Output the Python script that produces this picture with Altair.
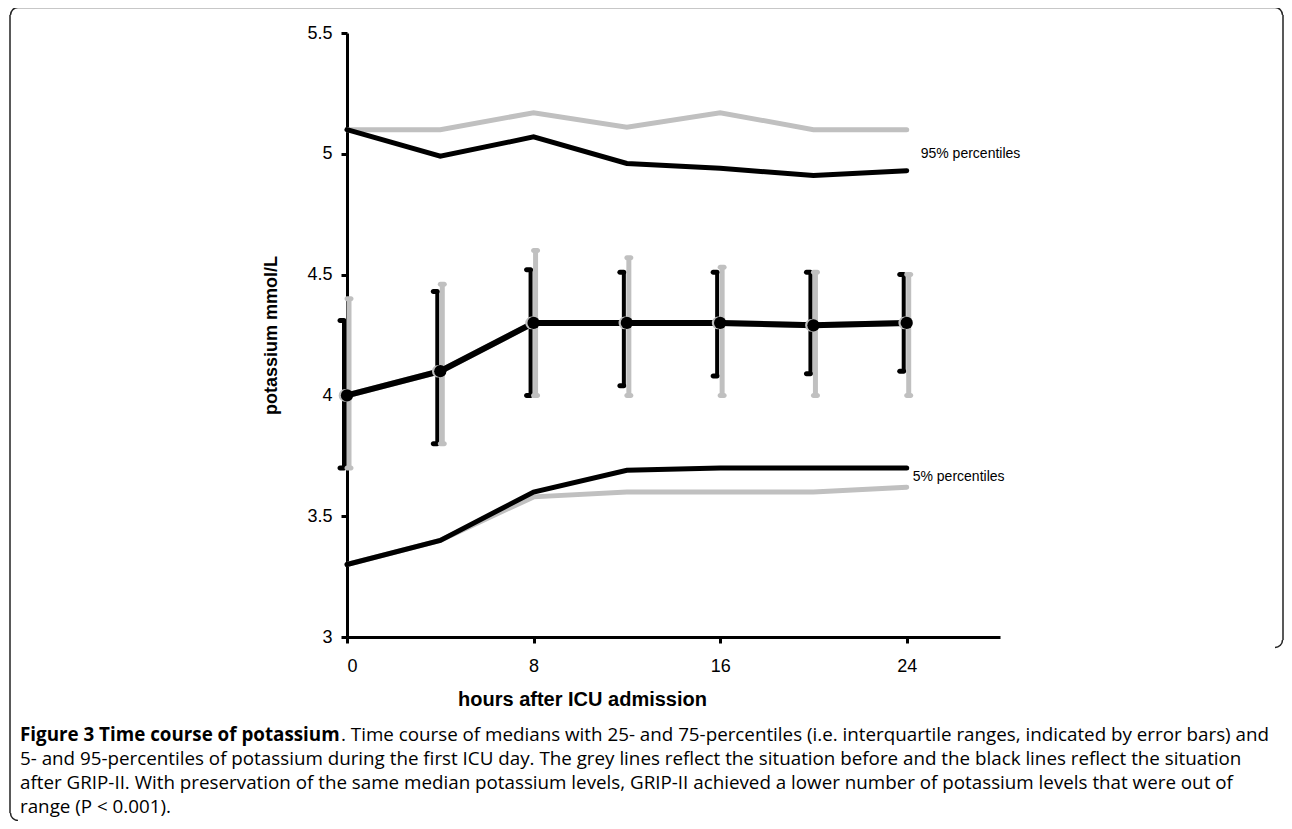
import math
import altair as alt
import pandas as pd

# ---------------- data ----------------
hours = [0, 4, 8, 12, 16, 20, 24]

# before GRIP-II (grey)
before_p5 = [3.30, 3.40, 3.58, 3.60, 3.60, 3.60, 3.62]
before_q25 = [3.70, 3.80, 4.00, 4.00, 4.00, 4.00, 4.00]
before_median = [4.00, 4.10, 4.30, 4.30, 4.30, 4.29, 4.30]
before_q75 = [4.40, 4.46, 4.60, 4.57, 4.53, 4.51, 4.50]
before_p95 = [5.10, 5.10, 5.17, 5.11, 5.17, 5.10, 5.10]

# after GRIP-II (black)
after_p5 = [3.30, 3.40, 3.60, 3.69, 3.70, 3.70, 3.70]
after_q25 = [3.70, 3.80, 4.00, 4.04, 4.08, 4.09, 4.10]
after_median = [4.00, 4.10, 4.30, 4.30, 4.30, 4.29, 4.30]
after_q75 = [4.31, 4.43, 4.52, 4.51, 4.51, 4.51, 4.50]
after_p95 = [5.10, 4.99, 5.07, 4.96, 4.94, 4.91, 4.93]

x_ticks = [0, 8, 16, 24]
y_ticks = [3, 3.5, 4, 4.5, 5, 5.5]

caption_bold = "Figure 3 Time course of potassium"
caption_lines = [
    ". Time course of medians with 25- and 75-percentiles (i.e. interquartile ranges, indicated by error bars) and",
    "5- and 95-percentiles of potassium during the first ICU day. The grey lines reflect the situation before and the black lines reflect the situation",
    "after GRIP-II. With preservation of the same median potassium levels, GRIP-II achieved a lower number of potassium levels that were out of",
    "range (P < 0.001).",
]

GREY = "#c0c0c0"
BLACK = "#000000"
FONT = "Liberation Sans"
CAP_FONT = "Open Sans"
CAP_SIZE = 18.8

before = pd.DataFrame({"h": hours, "p5": before_p5, "q25": before_q25,
                       "med": before_median, "q75": before_q75, "p95": before_p95})
after = pd.DataFrame({"h": hours, "p5": after_p5, "q25": after_q25,
                      "med": after_median, "q75": after_q75, "p95": after_p95})

xs = alt.Scale(domain=[0, 28], nice=False, zero=False)
ys = alt.Scale(domain=[3, 5.5], nice=False, zero=False)

x_axis = alt.Axis(values=x_ticks, grid=False, domainColor=BLACK, domainWidth=3,
                  tickColor=BLACK, tickWidth=3, tickSize=6, labelFont=FONT,
                  labelFontSize=18, labelColor=BLACK, labelPadding=14,
                  title="hours after ICU admission", titleFont=FONT, titleFontSize=20,
                  titleFontWeight="bold", titleColor=BLACK, titleX=235, titleY=62,
                  titleBaseline="middle", titleAlign="center")
y_axis = alt.Axis(values=y_ticks, format=".1~f", grid=False, domainColor=BLACK,
                  domainWidth=3, tickColor=BLACK, tickWidth=3, tickSize=6,
                  labelFont=FONT, labelFontSize=18, labelColor=BLACK, labelPadding=9,
                  title="potassium mmol/L", titleFont=FONT, titleFontSize=18,
                  titleFontWeight="bold", titleColor=BLACK, titleX=-76, titleY=302,
                  titleAngle=270, titleBaseline="middle", titleAlign="center")


def X():
    return alt.X("h:Q", scale=xs, axis=x_axis)


def Y(field):
    return alt.Y(f"{field}:Q", scale=ys, axis=y_axis)


def line(df, field, color, width):
    return alt.Chart(df).mark_line(color=color, strokeWidth=width, strokeCap="round",
                                   strokeJoin="miter").encode(x=X(), y=Y(field))


def errbar(df, color, width, off, cap_off):
    bar = alt.Chart(df).mark_rule(color=color, strokeWidth=width, xOffset=off).encode(
        x=X(), y=Y("q25"), y2="q75:Q")
    caps = []
    for f in ["q25", "q75"]:
        caps.append(alt.Chart(df).mark_tick(color=color, orient="horizontal", size=9,
                                            thickness=5, cornerRadius=2.5,
                                            xOffset=cap_off, opacity=1).encode(
            x=X(), y=Y(f)))
    return [bar] + caps


layers = []
layers.append(line(before, "p95", GREY, 5))
layers.append(line(after, "p95", BLACK, 5))
layers.append(line(before, "p5", GREY, 5))
layers.append(line(after, "p5", BLACK, 5))
layers += errbar(after, BLACK, 4, -3, -5)
layers += errbar(before, GREY, 5, 2, 2)
layers.append(line(before, "med", GREY, 6))
layers.append(line(after, "med", BLACK, 6))
layers.append(alt.Chart(before).mark_circle(color=GREY, size=160, opacity=1, xOffset=-2).encode(
    x=X(), y=Y("med")))
layers.append(alt.Chart(after).mark_circle(color=BLACK, size=150, opacity=1).encode(
    x=X(), y=Y("med")))

# series labels at the end of the black percentile lines
last = after.tail(1)
layers.append(alt.Chart(last).mark_text(text="95% percentiles", align="left", baseline="middle",
                                        dx=14, dy=-17, font=FONT, fontSize=14, color=BLACK).encode(
    x=X(), y=Y("p95")))
layers.append(alt.Chart(last).mark_text(text="5% percentiles", align="left", baseline="middle",
                                        dx=6, dy=9, font=FONT, fontSize=14, color=BLACK).encode(
    x=X(), y=Y("p5")))

# caption
one = pd.DataFrame({"k": [0]})
layers.append(alt.Chart(pd.DataFrame({"t": [caption_bold]})).mark_text(
    align="left", baseline="middle", font=CAP_FONT, fontSize=CAP_SIZE, fontWeight="bold",
    color=BLACK).encode(text="t:N", x=alt.value(-327), y=alt.value(702)))
cap_x = [-6, -327, -327, -327]
cap_y = [702, 726, 750, 774]
for t, cx, cy in zip(caption_lines, cap_x, cap_y):
    layers.append(alt.Chart(pd.DataFrame({"t": [t]})).mark_text(
        align="left", baseline="middle", font=CAP_FONT, fontSize=CAP_SIZE, color=BLACK).encode(
        text="t:N", x=alt.value(cx), y=alt.value(cy)))

# figure frame (decoration)
FR = "#222222"
layers.append(alt.Chart(one).mark_rule(color=FR, strokeWidth=1.5).encode(
    x=alt.value(-329), x2=alt.value(928), y=alt.value(-25.5)))
layers.append(alt.Chart(one).mark_rule(color=FR, strokeWidth=1.5).encode(
    x=alt.value(-337), y=alt.value(-18), y2=alt.value(780)))
layers.append(alt.Chart(one).mark_rule(color=FR, strokeWidth=1.5).encode(
    x=alt.value(936), y=alt.value(-18), y2=alt.value(607)))
arcs = [(-329, -18, 1.5 * math.pi, 2 * math.pi), (928, -18, 0, 0.5 * math.pi),
        (928, 607, 0.5 * math.pi, math.pi), (-329, 780, math.pi, 1.5 * math.pi)]
for ax_, ay_, t1, t2 in arcs:
    layers.append(alt.Chart(one).mark_arc(color=FR, radius=8.25, radius2=6.75,
                                          theta=t1, theta2=t2).encode(
        x=alt.value(ax_), y=alt.value(ay_)))

chart = alt.layer(*layers).properties(
    width=653, height=604,
    autosize=alt.AutoSizeParams(type="none"),
    padding={"left": 339, "top": 25, "right": 284, "bottom": 184},
    background="white",
).configure_view(stroke=None)

chart.save("out.html", embed_options={"renderer": "svg", "actions": False})
